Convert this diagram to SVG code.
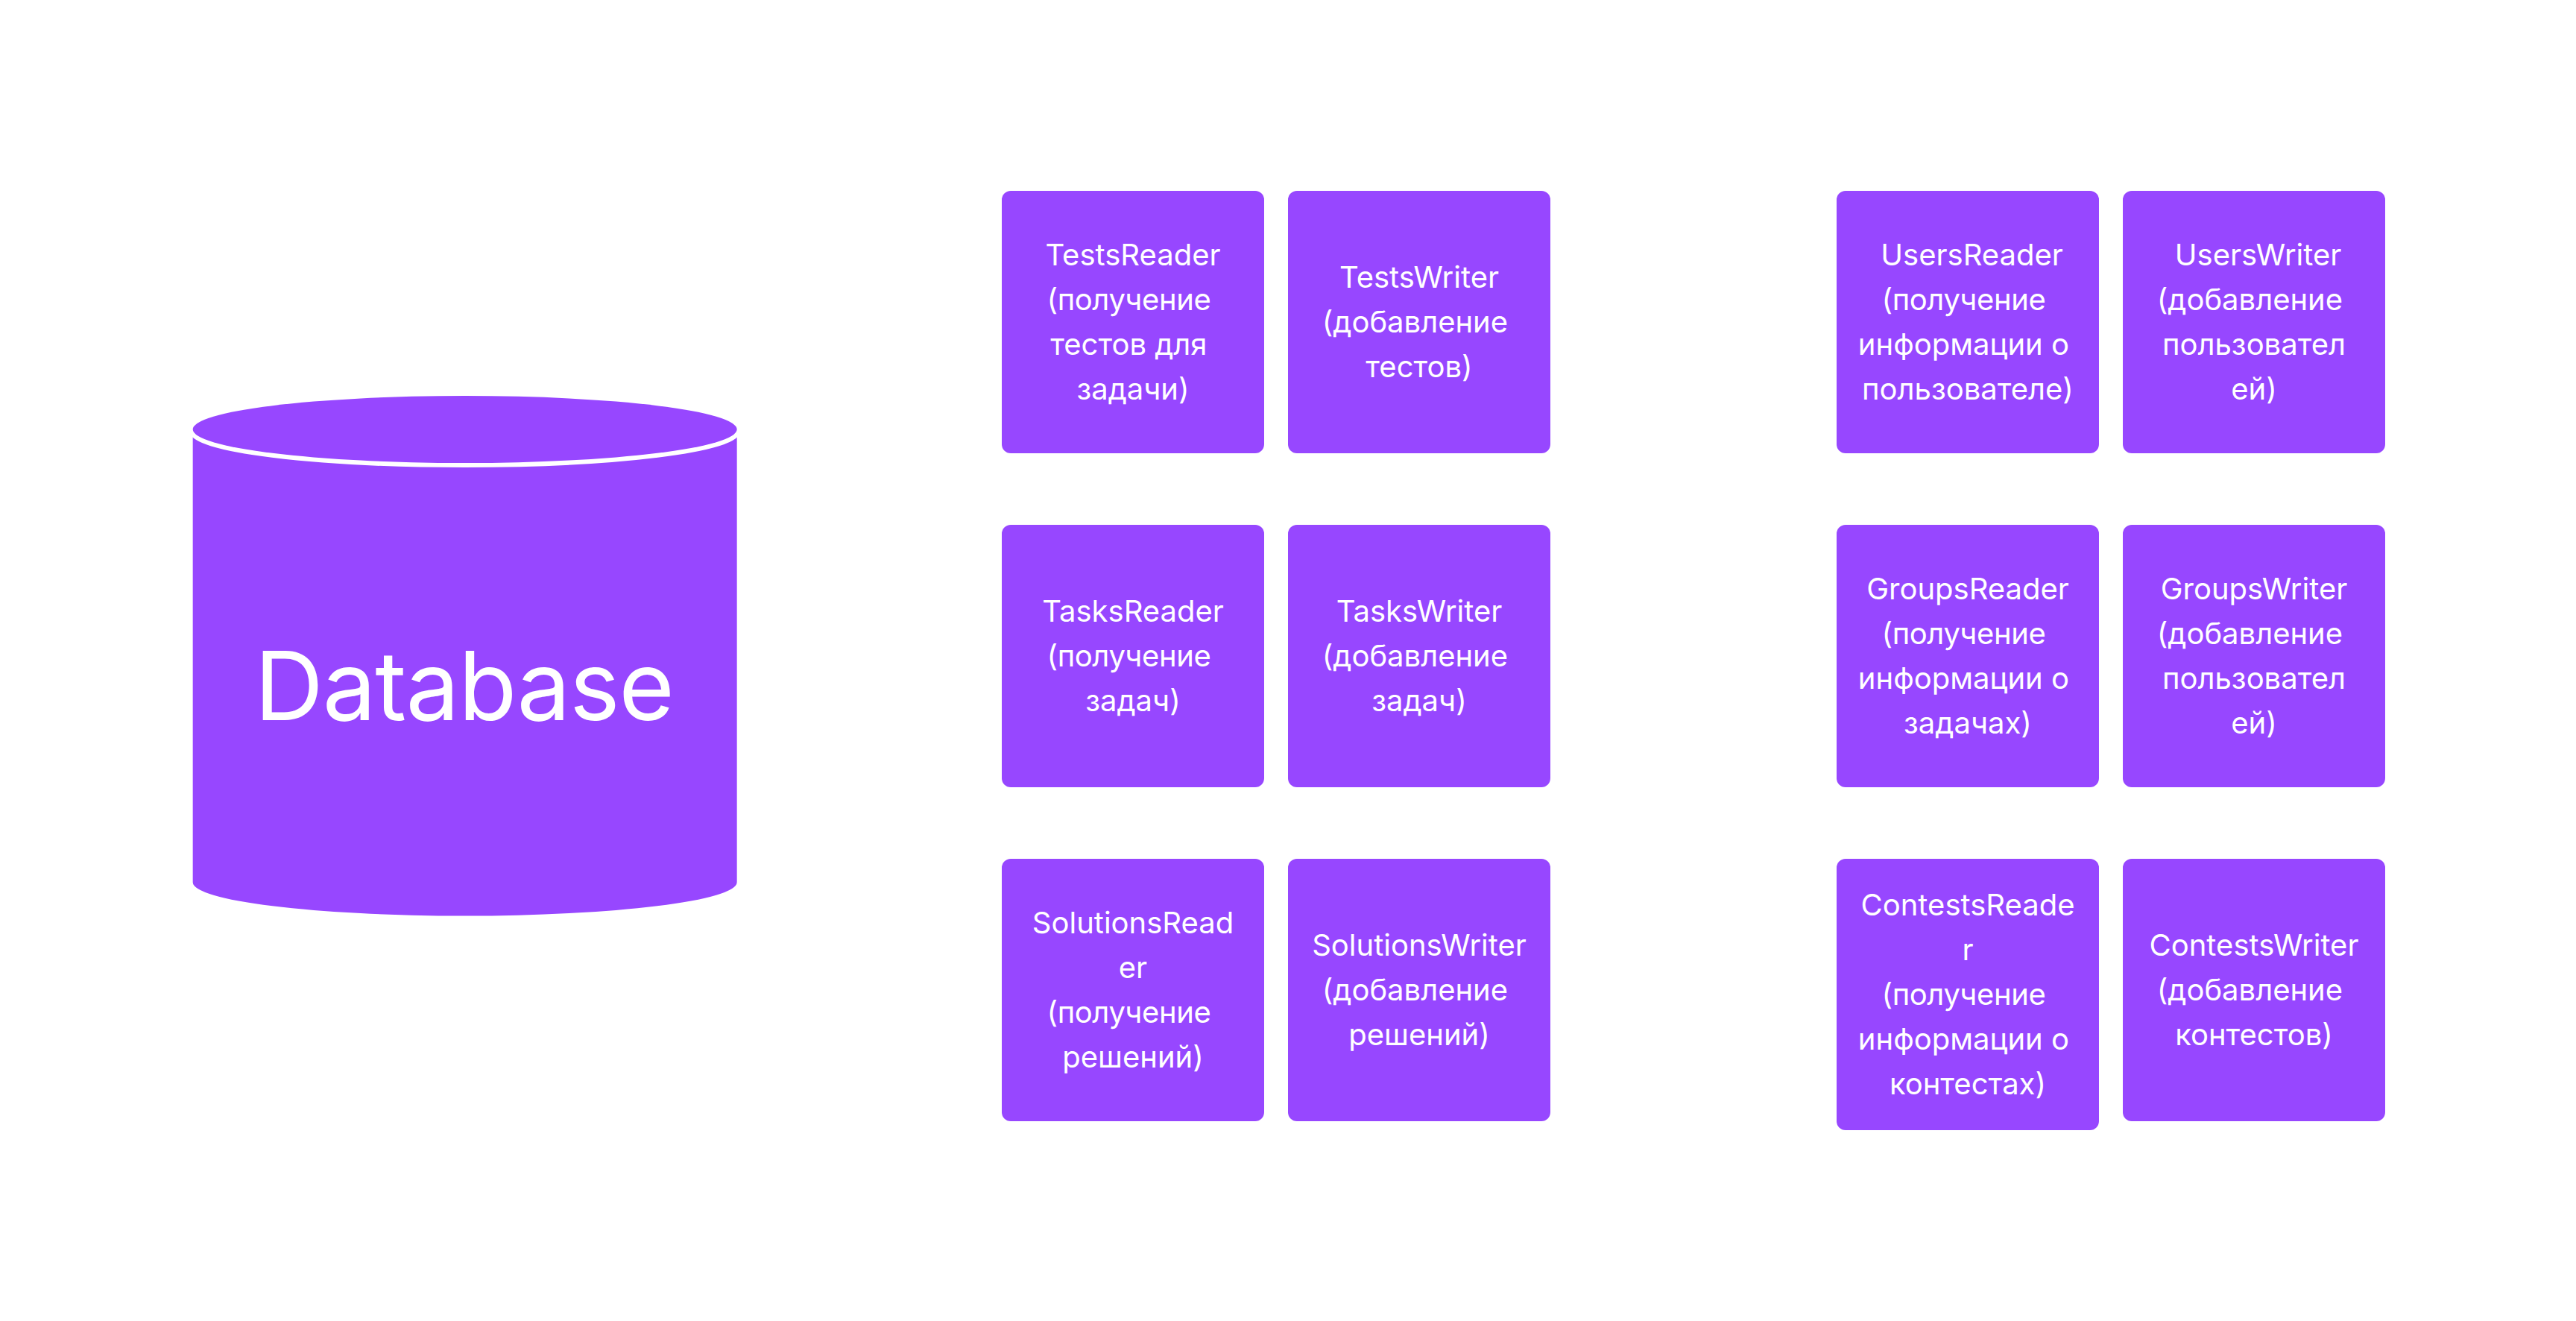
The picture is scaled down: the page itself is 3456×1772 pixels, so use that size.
<svg xmlns="http://www.w3.org/2000/svg" width="3456" height="1772" viewBox="0 0 3456 1772">
<style>
.p{fill:#9747FF}
.b{rx:12px;ry:12px}
text{font-family:"Inter","Noto Sans",sans-serif;fill:#fff;font-size:40px;text-anchor:middle}
.big{font-size:128px;letter-spacing:-1.280px}
.t{letter-spacing:-0.400px}
</style>
<rect width="3456" height="1772" fill="#fff"/>
<g id="database">
<path class="p" d="M258.670 576V1183.500A365 45 0 0 0 988.670 1183.500V576Z"/>
<ellipse class="p" cx="623.670" cy="576" rx="365" ry="45" stroke="#fff" stroke-width="12" paint-order="stroke"/>
<text class="big" x="622.600" y="966">Database</text>
</g>
<g id="tests-reader"><rect class="p b" x="1344" y="256" width="352" height="352"/>
<text><tspan x="1520" y="356">TestsReader</tspan><tspan class="t" x="1514.400" y="416">(получение</tspan><tspan x="1514.400" y="476">тестов для</tspan><tspan x="1520" y="536">задачи)</tspan></text></g>
<g id="tests-writer"><rect class="p b" x="1728" y="256" width="352" height="352"/>
<text><tspan x="1904" y="386">TestsWriter</tspan><tspan x="1898.400" y="446">(добавление</tspan><tspan x="1904" y="506">тестов)</tspan></text></g>
<g id="tasks-reader"><rect class="p b" x="1344" y="704" width="352" height="352"/>
<text><tspan x="1520" y="834">TasksReader</tspan><tspan class="t" x="1514.400" y="894">(получение</tspan><tspan x="1520" y="954">задач)</tspan></text></g>
<g id="tasks-writer"><rect class="p b" x="1728" y="704" width="352" height="352"/>
<text><tspan x="1904" y="834">TasksWriter</tspan><tspan x="1898.400" y="894">(добавление</tspan><tspan x="1904" y="954">задач)</tspan></text></g>
<g id="solutions-reader"><rect class="p b" x="1344" y="1152" width="352" height="352"/>
<text><tspan x="1520" y="1252">SolutionsRead</tspan><tspan x="1520" y="1312">er</tspan><tspan class="t" x="1514.400" y="1372">(получение</tspan><tspan x="1520" y="1432">решений)</tspan></text></g>
<g id="solutions-writer"><rect class="p b" x="1728" y="1152" width="352" height="352"/>
<text><tspan x="1904" y="1282">SolutionsWriter</tspan><tspan x="1898.400" y="1342">(добавление</tspan><tspan x="1904" y="1402">решений)</tspan></text></g>
<g id="users-reader"><rect class="p b" x="2464" y="256" width="352" height="352"/>
<text><tspan x="2645.600" y="356">UsersReader</tspan><tspan class="t" x="2634.400" y="416">(получение</tspan><tspan x="2634.400" y="476">информации о</tspan><tspan x="2640" y="536">пользователе)</tspan></text></g>
<g id="users-writer"><rect class="p b" x="2848" y="256" width="352" height="352"/>
<text><tspan x="3029.600" y="356">UsersWriter</tspan><tspan x="3018.400" y="416">(добавление</tspan><tspan x="3024" y="476">пользовател</tspan><tspan x="3024" y="536">ей)</tspan></text></g>
<g id="groups-reader"><rect class="p b" x="2464" y="704" width="352" height="352"/>
<text><tspan x="2640" y="804">GroupsReader</tspan><tspan class="t" x="2634.400" y="864">(получение</tspan><tspan x="2634.400" y="924">информации о</tspan><tspan x="2640" y="984">задачах)</tspan></text></g>
<g id="groups-writer"><rect class="p b" x="2848" y="704" width="352" height="352"/>
<text><tspan x="3024" y="804">GroupsWriter</tspan><tspan x="3018.400" y="864">(добавление</tspan><tspan x="3024" y="924">пользовател</tspan><tspan x="3024" y="984">ей)</tspan></text></g>
<g id="contests-reader"><rect class="p b" x="2464" y="1152" width="352" height="364"/>
<text><tspan x="2640" y="1228">ContestsReade</tspan><tspan x="2640" y="1288">r</tspan><tspan class="t" x="2634.400" y="1348">(получение</tspan><tspan x="2634.400" y="1408">информации о</tspan><tspan x="2640" y="1468">контестах)</tspan></text></g>
<g id="contests-writer"><rect class="p b" x="2848" y="1152" width="352" height="352"/>
<text><tspan x="3024" y="1282">ContestsWriter</tspan><tspan x="3018.400" y="1342">(добавление</tspan><tspan x="3024" y="1402">контестов)</tspan></text></g>
</svg>
